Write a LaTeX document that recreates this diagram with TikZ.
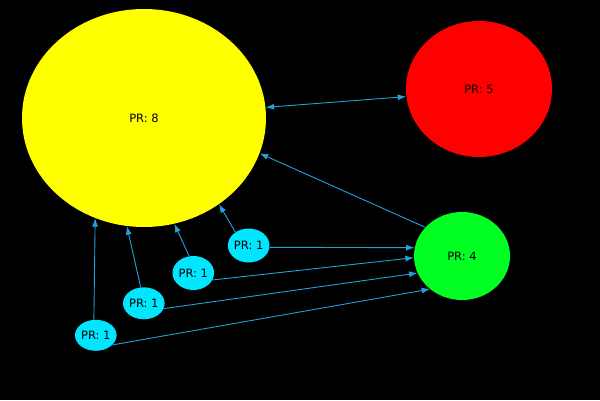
\documentclass[tikz,border=0pt]{standalone}
\usepackage{fontspec}
\setmainfont{DejaVu Sans}
\usetikzlibrary{shapes.geometric,arrows.meta}
\definecolor{edgeblue}{RGB}{35,160,220}
\definecolor{cyanfill}{RGB}{0,230,255}
\definecolor{greenfill}{RGB}{0,255,34}
\definecolor{yellowfill}{RGB}{255,255,0}
\definecolor{redfill}{RGB}{255,0,0}
\tikzset{
  prnode/.style={ellipse, inner sep=0pt, font=\fontsize{11.5}{13}\selectfont, text=black},
  edge/.style={draw=edgeblue, line width=0.9pt, -{Latex[length=8.5pt,width=6pt]}},
  biedge/.style={draw=edgeblue, line width=0.9pt, {Latex[length=8.5pt,width=6pt]}-{Latex[length=8.5pt,width=6pt]}}
}
\begin{document}
\begin{tikzpicture}[x=1pt,y=1pt]
\fill[black] (0,0) rectangle (600,400);
\useasboundingbox (0,0) rectangle (600,400);
\node[prnode, fill=yellowfill, minimum width=244pt, minimum height=218pt] (Y) at (144,282) {PR: 8};
\node[prnode, fill=redfill, minimum width=146pt, minimum height=136pt] (R) at (479,311) {PR: 5};
\node[prnode, fill=greenfill, minimum width=96pt, minimum height=88pt] (G) at (462,144) {PR: 4};
\node[prnode, fill=cyanfill, minimum width=36pt, minimum height=34pt] (c1) at (248.7,154.5) {PR: 1};
\node[prnode, fill=cyanfill, minimum width=35pt, minimum height=34pt] (c2) at (193.3,127) {PR: 1};
\node[prnode, fill=cyanfill, minimum width=37pt, minimum height=32pt] (c3) at (143.8,96.7) {PR: 1};
\node[prnode, fill=cyanfill, minimum width=37pt, minimum height=31pt] (c4) at (95.8,64.7) {PR: 1};
\draw[biedge] (Y.5) -- (R.186);
\draw[edge] (G.142.6) -- (Y.-17.8);
\draw[edge] (c1.135) -- (Y.-49);
\draw[edge] (c2.104) -- (Y.-74.9);
\draw[edge] (c3.101) -- (Y.-99.9);
\draw[edge] (c4.97) -- (Y.-116);
\draw[edge] (c1.-5.7) -- (G.170.4);
\draw[edge] (c2.-20) -- (G.182.7);
\draw[edge] (c3.-15.8) -- (G.201.4);
\draw[edge] (c4.-30) -- (G.226);
\end{tikzpicture}
\end{document}
